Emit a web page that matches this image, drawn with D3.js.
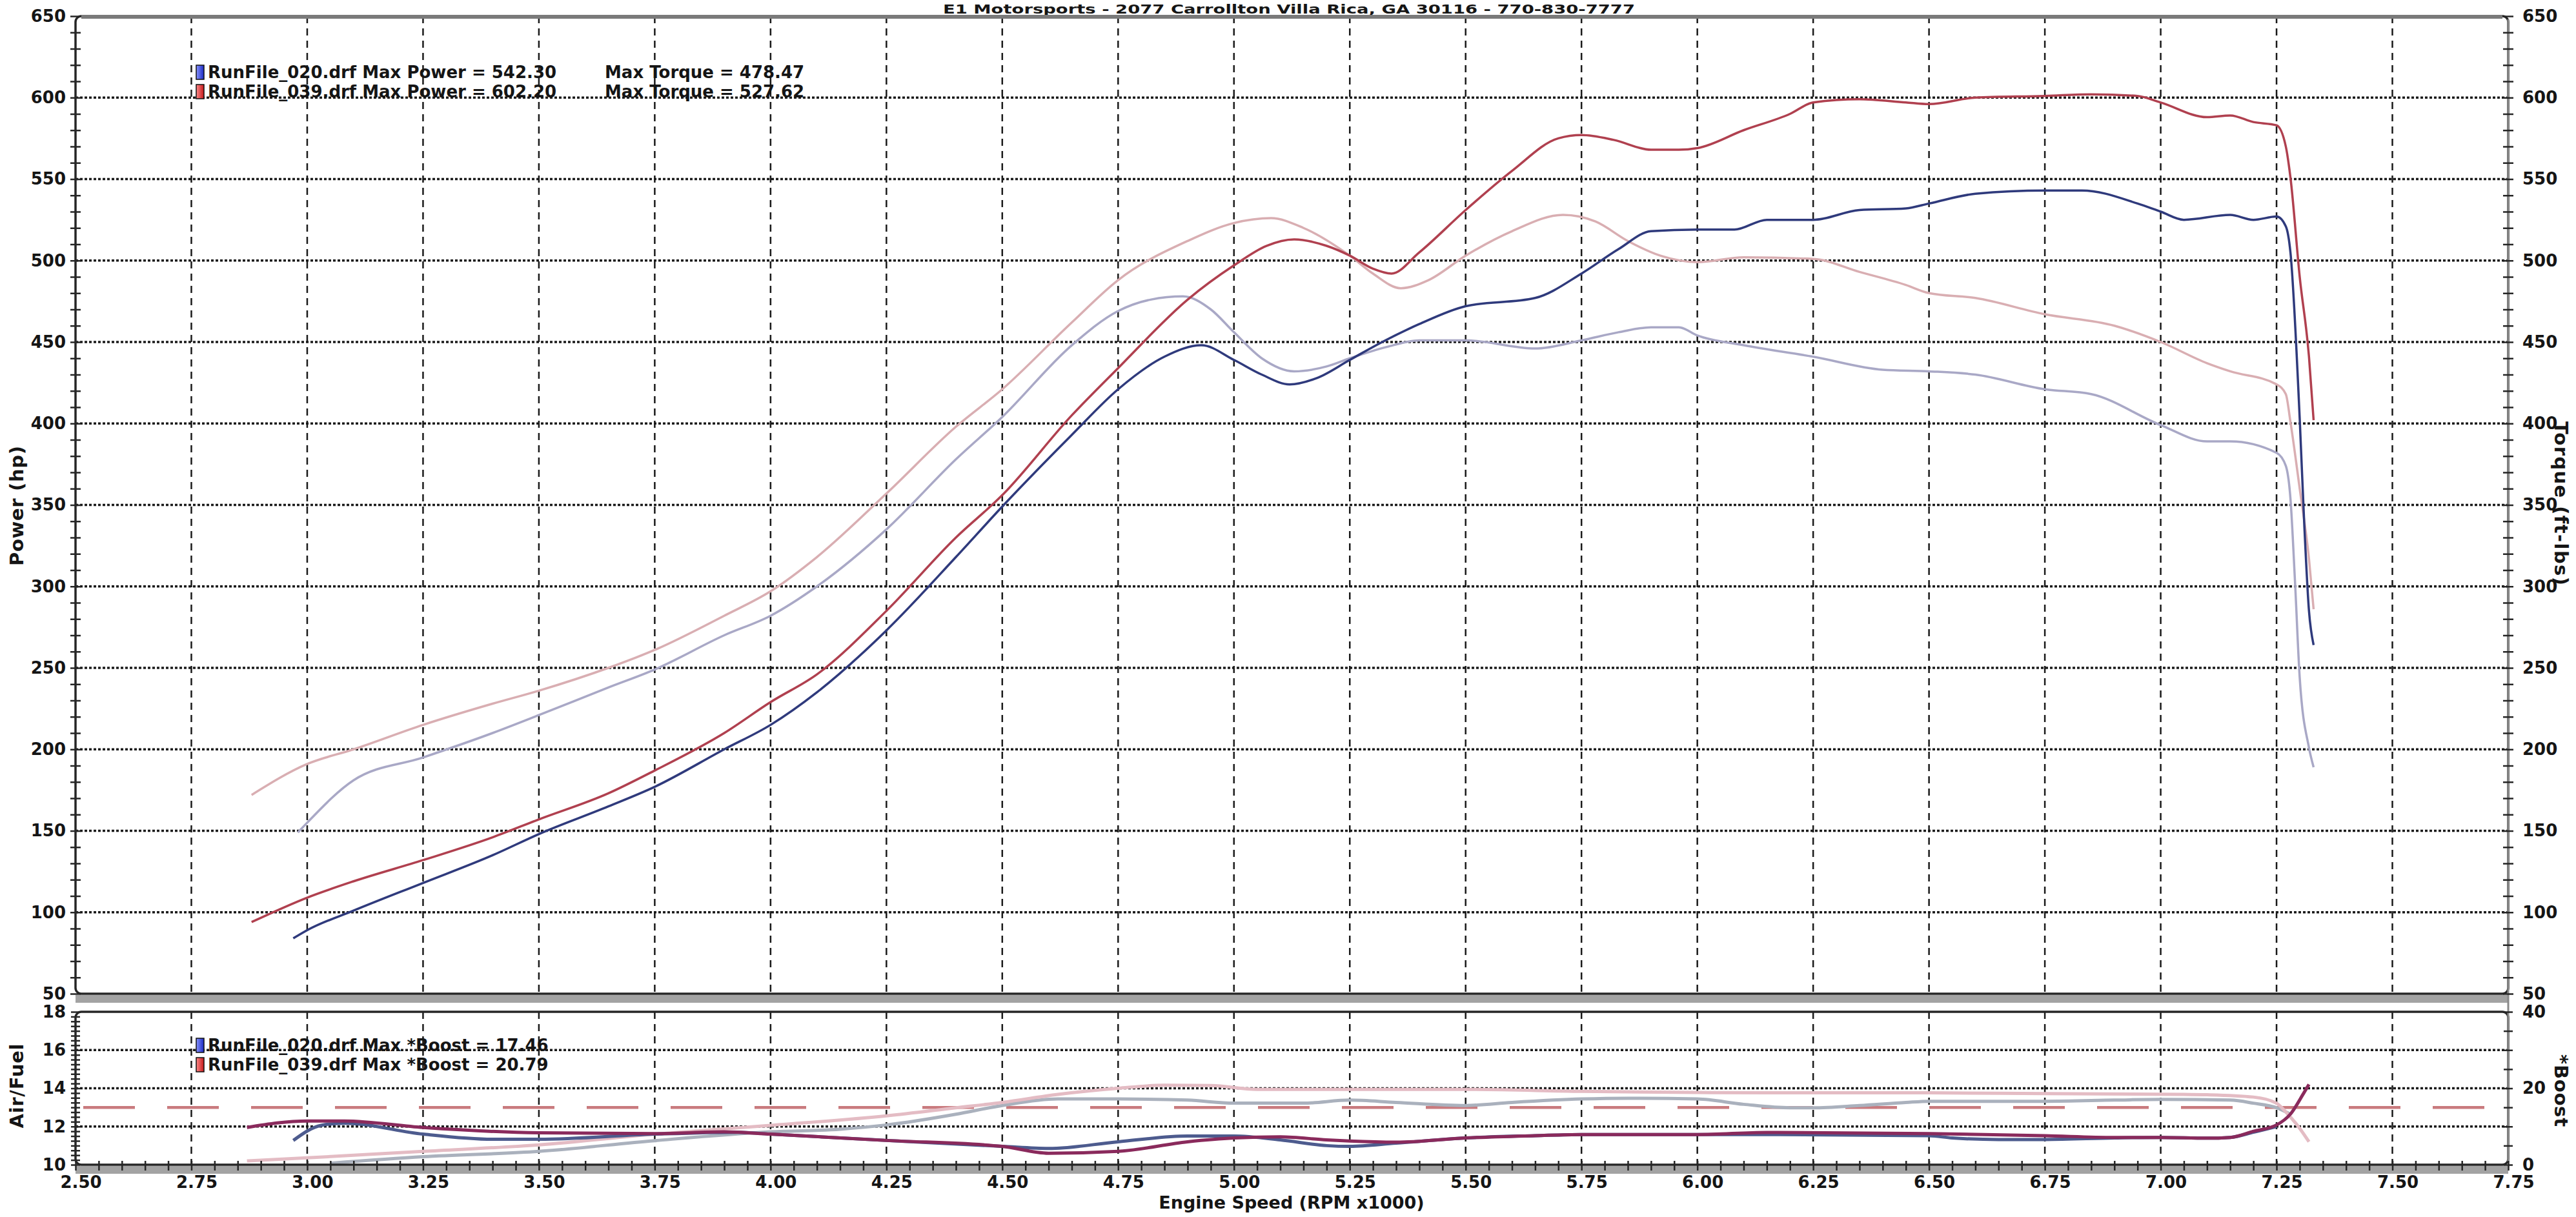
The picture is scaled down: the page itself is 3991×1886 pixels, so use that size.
<!DOCTYPE html>
<html>
<head>
<meta charset="utf-8">
<script src="https://cdnjs.cloudflare.com/ajax/libs/d3/7.8.5/d3.min.js"></script>
<style>
  body { margin: 0; background: #fff; }
  text { font-family: "DejaVu Sans", Verdana, sans-serif; font-weight: bold; fill: #151515; }
</style>
</head>
<body>
<svg id="chart" width="3991" height="1886"></svg>
<script>
// tick labels
var rpmTicks = [2.50, 2.75, 3.00, 3.25, 3.50, 3.75, 4.00, 4.25, 4.50, 4.75, 5.00, 5.25, 5.50, 5.75, 6.00, 6.25, 6.50, 6.75, 7.00, 7.25, 7.50, 7.75];
var powerTicks = [50, 100, 150, 200, 250, 300, 350, 400, 450, 500, 550, 600, 650];
var afrTicks = [10, 12, 14, 16, 18];
var boostTicks = [0, 20, 40];
var afrTarget = 13;

// RunFile_020 (blue)
var bluePowerRpm = [2.97, 3.00, 3.10, 3.25, 3.40, 3.50, 3.65, 3.75, 3.90, 4.00, 4.10, 4.25, 4.40, 4.50, 4.65, 4.75, 4.85, 4.93, 5.00, 5.06, 5.12, 5.18, 5.25, 5.32, 5.40, 5.50, 5.65, 5.75, 5.83, 5.90, 6.00, 6.08, 6.15, 6.25, 6.35, 6.45, 6.50, 6.60, 6.75, 6.83, 6.95, 7.00, 7.05, 7.15, 7.20, 7.25, 7.27, 7.28, 7.30, 7.31, 7.32, 7.33];
var bluePower = [84, 89, 101, 118, 135, 148, 165, 177, 200, 215, 235, 273, 318, 349, 393, 421, 441, 448, 439, 430, 424, 428, 439, 450, 461, 472, 477, 492, 507, 518, 519, 519, 525, 525, 531, 532, 535, 541, 543, 543, 535, 530, 525, 528, 525, 527, 521, 505, 403, 337, 285, 264];
var blueTorqueRpm = [2.98, 3.00, 3.10, 3.25, 3.40, 3.50, 3.65, 3.75, 3.90, 4.00, 4.10, 4.25, 4.40, 4.50, 4.65, 4.75, 4.82, 4.89, 4.95, 5.00, 5.06, 5.13, 5.20, 5.25, 5.33, 5.40, 5.50, 5.65, 5.75, 5.83, 5.90, 5.96, 6.00, 6.10, 6.25, 6.40, 6.50, 6.60, 6.75, 6.85, 7.00, 7.10, 7.15, 7.25, 7.27, 7.28, 7.29, 7.30, 7.32, 7.33];
var blueTorque = [149, 155, 181, 195, 210, 221, 238, 249, 270, 282, 300, 335, 378, 404, 448, 469, 476, 478, 470, 456, 440, 432, 435, 440, 447, 451, 451, 446, 451, 456, 459, 459, 454, 448, 441, 433, 432, 430, 421, 418, 399, 389, 389, 382, 374, 354, 302, 244, 201, 189];
var blueAfrRpm = [2.97, 3.03, 3.08, 3.25, 3.40, 3.50, 3.75, 3.93, 4.00, 4.25, 4.50, 4.60, 4.75, 4.90, 5.00, 5.10, 5.20, 5.25, 5.35, 5.50, 5.65, 5.75, 6.00, 6.15, 6.50, 6.55, 6.65, 6.75, 6.90, 7.00, 7.10, 7.15, 7.20, 7.25];
var blueAfr = [11.27, 12.06, 12.17, 11.60, 11.33, 11.33, 11.60, 11.70, 11.60, 11.27, 10.96, 10.85, 11.20, 11.50, 11.50, 11.30, 11.00, 10.96, 11.13, 11.40, 11.52, 11.58, 11.58, 11.58, 11.52, 11.40, 11.32, 11.32, 11.40, 11.43, 11.39, 11.43, 11.70, 12.00];
var blueBoostRpm = [3.05, 3.25, 3.50, 3.75, 4.00, 4.15, 4.25, 4.40, 4.50, 4.62, 4.75, 4.90, 5.00, 5.15, 5.25, 5.35, 5.50, 5.60, 5.75, 5.85, 6.00, 6.10, 6.20, 6.25, 6.35, 6.45, 6.50, 6.75, 6.90, 7.00, 7.15, 7.20, 7.25, 7.28];
var blueBoost = [0.4, 2.1, 3.5, 6.3, 8.6, 9.3, 10.4, 13.2, 15.5, 17.2, 17.2, 16.9, 16.1, 16.1, 16.9, 16.3, 15.5, 16.3, 17.2, 17.4, 17.2, 15.8, 14.9, 14.9, 15.5, 16.3, 16.6, 16.6, 16.9, 17.1, 16.9, 16.1, 14.9, 13.2];

// RunFile_039 (red)
var redPowerRpm = [2.88, 3.00, 3.10, 3.25, 3.40, 3.50, 3.65, 3.75, 3.90, 4.00, 4.10, 4.25, 4.40, 4.50, 4.65, 4.75, 4.90, 5.00, 5.07, 5.13, 5.20, 5.25, 5.30, 5.34, 5.40, 5.50, 5.60, 5.70, 5.75, 5.82, 5.90, 5.96, 6.00, 6.10, 6.20, 6.25, 6.35, 6.45, 6.50, 6.60, 6.75, 6.85, 6.95, 7.00, 7.10, 7.15, 7.20, 7.25, 7.27, 7.28, 7.30, 7.32, 7.33];
var redPower = [94, 109, 119, 132, 146, 157, 173, 187, 210, 229, 246, 285, 330, 356, 405, 434, 476, 497, 509, 513, 509, 503, 495, 492, 505, 531, 555, 575, 577, 574, 568, 568, 569, 580, 590, 597, 599, 597, 596, 600, 601, 602, 601, 597, 588, 589, 585, 583, 570, 551, 490, 441, 402];
var redTorqueRpm = [2.88, 3.00, 3.10, 3.25, 3.40, 3.50, 3.65, 3.75, 3.90, 4.00, 4.10, 4.25, 4.40, 4.50, 4.65, 4.75, 4.90, 5.00, 5.08, 5.15, 5.25, 5.30, 5.36, 5.42, 5.50, 5.60, 5.71, 5.78, 5.85, 5.92, 6.00, 6.10, 6.25, 6.35, 6.45, 6.50, 6.60, 6.75, 6.90, 7.00, 7.10, 7.15, 7.25, 7.27, 7.28, 7.30, 7.32, 7.33];
var redTorque = [172, 191, 200, 215, 228, 236, 250, 261, 282, 297, 318, 357, 398, 421, 462, 488, 512, 523, 526, 520, 503, 492, 483, 488, 503, 518, 528, 524, 512, 503, 499, 502, 501, 493, 485, 480, 477, 467, 460, 450, 437, 432, 424, 418, 401, 360, 317, 286];
var redAfrRpm = [2.87, 3.00, 3.08, 3.25, 3.50, 3.75, 3.90, 4.00, 4.25, 4.50, 4.60, 4.75, 4.90, 5.00, 5.10, 5.20, 5.25, 5.35, 5.50, 5.65, 5.75, 6.00, 6.15, 6.50, 6.75, 6.90, 7.00, 7.10, 7.15, 7.20, 7.25, 7.28, 7.31, 7.32];
var redAfr = [11.95, 12.29, 12.29, 11.95, 11.67, 11.63, 11.72, 11.60, 11.27, 10.96, 10.60, 10.70, 11.20, 11.40, 11.46, 11.30, 11.24, 11.18, 11.40, 11.52, 11.58, 11.58, 11.69, 11.63, 11.52, 11.43, 11.43, 11.39, 11.43, 11.75, 12.08, 12.65, 13.80, 14.20];
var redBoostRpm = [2.87, 3.00, 3.25, 3.50, 3.75, 4.00, 4.25, 4.40, 4.50, 4.62, 4.75, 4.85, 4.95, 5.05, 5.25, 5.50, 5.75, 6.00, 6.15, 6.50, 6.75, 7.05, 7.10, 7.20, 7.25, 7.27, 7.30, 7.32];
var redBoost = [1.0, 1.8, 3.5, 5.2, 8.0, 10.3, 12.8, 14.9, 16.3, 18.4, 20.0, 20.8, 20.7, 19.7, 19.7, 19.7, 19.2, 18.9, 18.8, 18.8, 18.6, 18.4, 18.3, 17.7, 16.1, 13.8, 9.5, 6.0];

var legendTop = [
  ["RunFile_020.drf Max Power = 542.30", "Max Torque = 478.47"],
  ["RunFile_039.drf Max Power = 602.20", "Max Torque = 527.62"]
];
var legendBottom = ["RunFile_020.drf Max *Boost = 17.46", "RunFile_039.drf Max *Boost = 20.79"];

var W = 3991, H = 1886;
var svg = d3.select("#chart");
svg.append("rect").attr("width", W).attr("height", H).attr("fill", "#fff");

var x = d3.scaleLinear().domain([2.5, 7.75]).range([117, 3886]);
var yPow = d3.scaleLinear().domain([50, 650]).range([1540, 25]);
var yAfr = d3.scaleLinear().domain([10, 18]).range([1805, 1568]);
var yBoost = d3.scaleLinear().domain([0, 40]).range([1805, 1568]);

var defs = svg.append("defs");
function swatchGrad(id, light, dark) {
  var g = defs.append("linearGradient").attr("id", id).attr("x1", 0).attr("x2", 1).attr("y1", 0).attr("y2", 0);
  g.append("stop").attr("offset", "0%").attr("stop-color", light);
  g.append("stop").attr("offset", "100%").attr("stop-color", dark);
}
swatchGrad("gBlue", "#8894ff", "#1a28c0");
swatchGrad("gRed", "#ff8a8a", "#c41818");

// title
svg.append("text").attr("x", 1997).attr("y", 21).attr("text-anchor", "middle")
  .attr("font-size", 20).attr("textLength", 1072).attr("lengthAdjust", "spacingAndGlyphs")
  .text("E1 Motorsports - 2077 Carrollton Villa Rica, GA 30116 - 770-830-7777");

// grid
var grid = svg.append("g");
grid.selectAll(".hp").data(powerTicks.slice(1, -1)).join("line")
  .attr("x1", x(2.5)).attr("x2", x(7.75))
  .attr("y1", d => yPow(d)).attr("y2", d => yPow(d))
  .attr("stroke", "#1a1a1a").attr("stroke-width", 3.5).attr("stroke-dasharray", "4,3");
grid.selectAll(".ha").data(afrTicks.slice(1, -1)).join("line")
  .attr("x1", x(2.5)).attr("x2", x(7.75))
  .attr("y1", d => yAfr(d)).attr("y2", d => yAfr(d))
  .attr("stroke", "#1a1a1a").attr("stroke-width", 3.5).attr("stroke-dasharray", "4,3");
[[yPow(650), yPow(50)], [yAfr(18), yAfr(10)]].forEach(function(span) {
  grid.append("g").selectAll("line").data(rpmTicks.slice(1, -1)).join("line")
    .attr("x1", d => x(d)).attr("x2", d => x(d))
    .attr("y1", span[0]).attr("y2", span[1])
    .attr("stroke", "#1a1a1a").attr("stroke-width", 2.5).attr("stroke-dasharray", "11,8");
});

// AFR target line
svg.append("line").attr("x1", x(2.5) + 12).attr("x2", x(7.75))
  .attr("y1", yAfr(afrTarget)).attr("y2", yAfr(afrTarget))
  .attr("stroke", "#c97a7e").attr("stroke-width", 4.5).attr("stroke-dasharray", "80,50");

function drawLine(rpm, vals, y, color, width) {
  var line = d3.line().x(d => x(d[0])).y(d => y(d[1])).curve(d3.curveMonotoneX);
  svg.append("path").datum(d3.zip(rpm, vals)).attr("d", line)
    .attr("fill", "none").attr("stroke", color).attr("stroke-width", width)
    .attr("stroke-linejoin", "round");
}

// top panel curves
drawLine(blueTorqueRpm, blueTorque, yPow, "#a9a8c6", 3.5);
drawLine(redTorqueRpm, redTorque, yPow, "#d9aeb2", 3.5);
drawLine(bluePowerRpm, bluePower, yPow, "#2f3a7c", 3.5);
drawLine(redPowerRpm, redPower, yPow, "#b0404f", 3.5);

// lower panel curves
drawLine(blueBoostRpm, blueBoost, yBoost, "#aab1bd", 5);
drawLine(redBoostRpm, redBoost, yBoost, "#e4bcc4", 5);
drawLine(blueAfrRpm, blueAfr, yAfr, "#4d5b8e", 5);
drawLine(redAfrRpm, redAfr, yAfr, "#8a2a5c", 5);

// frames
function frame(y0, y1) {
  svg.append("rect").attr("x", 117).attr("y", y1 + 2).attr("width", 3769).attr("height", 12)
    .attr("fill", "#a3a3a3");
  svg.append("rect").attr("x", 117).attr("y", y0).attr("width", 3769).attr("height", y1 - y0)
    .attr("rx", 9).attr("fill", "none").attr("stroke", "#262626").attr("stroke-width", 3.5);
}
frame(yPow(650), yPow(50));
frame(yAfr(18), yAfr(10));
svg.append("line").attr("x1", 126).attr("x2", 3877).attr("y1", 26).attr("y2", 26)
  .attr("stroke", "#7a7a7a").attr("stroke-width", 6);
svg.append("line").attr("x1", 3886).attr("x2", 3886).attr("y1", 30).attr("y2", 1800)
  .attr("stroke", "#8a8a8a").attr("stroke-width", 3);

// axes
function styleAxis(g) {
  g.attr("font-family", null).attr("font-size", 26);
  g.select(".domain").remove();
  g.selectAll(".tick line").attr("stroke", "#262626").attr("stroke-width", 2.5);
  return g;
}
function minor(scale, vals, at, size) {
  [d3.axisLeft, d3.axisRight].forEach(function(ax) {
    styleAxis(svg.append("g").attr("transform", "translate(" + at + ",0)")
      .call(ax(scale).tickValues(vals).tickSize(size).tickFormat("")));
  });
}
minor(yPow, d3.range(50, 651, 10), 117, 8);
minor(yPow, d3.range(50, 651, 10), 3886, 8);
minor(yAfr, d3.range(10, 18.01, 0.25), 117, 7);
minor(yBoost, d3.range(0, 40.1, 5), 3886, 7);

styleAxis(svg.append("g").attr("transform", "translate(117,0)")
  .call(d3.axisLeft(yPow).tickValues(powerTicks).tickSize(0).tickPadding(15)));
styleAxis(svg.append("g").attr("transform", "translate(3886,0)")
  .call(d3.axisRight(yPow).tickValues(powerTicks).tickSize(0).tickPadding(22)));
styleAxis(svg.append("g").attr("transform", "translate(117,0)")
  .call(d3.axisLeft(yAfr).tickValues(afrTicks).tickSize(0).tickPadding(15)));
styleAxis(svg.append("g").attr("transform", "translate(3886,0)")
  .call(d3.axisRight(yBoost).tickValues(boostTicks).tickSize(0).tickPadding(22)));

var xMinor = d3.range(2.5, 7.751, 0.05);
styleAxis(svg.append("g").attr("transform", "translate(0,1805)")
  .call(d3.axisBottom(x).tickValues(xMinor).tickSize(9).tickFormat("")));
styleAxis(svg.append("g").attr("transform", "translate(0,1805)")
  .call(d3.axisTop(x).tickValues(xMinor).tickSize(6).tickFormat("")));
styleAxis(svg.append("g").attr("transform", "translate(0,1805)")
  .call(d3.axisBottom(x).tickValues(rpmTicks).tickFormat(d3.format(".2f")).tickSize(0).tickPadding(18)))
  .selectAll("text").attr("dx", 8);

// axis titles
function vtitle(label, cx, cy, angle, len) {
  svg.append("text").attr("transform", "translate(" + cx + "," + cy + ") rotate(" + angle + ")")
    .attr("text-anchor", "middle").attr("font-size", 29)
    .attr("textLength", len).attr("lengthAdjust", "spacing").text(label);
}
vtitle("Power (hp)", 36, 784, -90, 186);
vtitle("Torque (ft-lbs)", 3958, 780, 90, 254);
vtitle("Air/Fuel", 36, 1683, -90, 131);
vtitle("*Boost", 3958, 1690, 90, 112);

svg.append("text").attr("x", 2001).attr("y", 1873).attr("text-anchor", "middle")
  .attr("font-size", 27).text("Engine Speed (RPM x1000)");

// legends
function legend(rows, y0) {
  rows.forEach(function(r, i) {
    var cy = y0 + i * 30;
    svg.append("rect").attr("x", 304).attr("y", cy - 11).attr("width", 12).attr("height", 22)
      .attr("fill", i === 0 ? "url(#gBlue)" : "url(#gRed)").attr("stroke", "#111").attr("stroke-width", 1.5);
    var parts = Array.isArray(r) ? r : [r];
    svg.append("text").attr("x", 322).attr("y", cy + 9).attr("font-size", 26).text(parts[0]);
    if (parts[1]) svg.append("text").attr("x", 937).attr("y", cy + 9).attr("font-size", 26).text(parts[1]);
  });
}
legend(legendTop, 112);
legend(legendBottom, 1620);
</script>
</body>
</html>
